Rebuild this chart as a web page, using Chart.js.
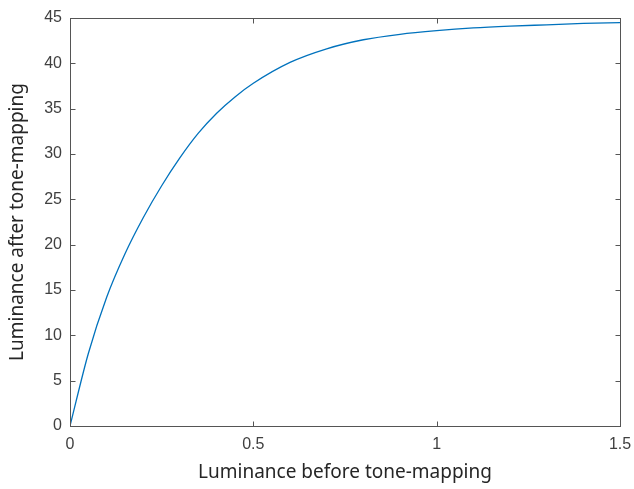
<!DOCTYPE html>
<html>
<head>
<meta charset="utf-8">
<script src="https://cdn.jsdelivr.net/npm/chart.js@4.4.1/dist/chart.umd.min.js"></script>
<style>
  html, body { margin: 0; padding: 0; background: #fff; }
  #wrap { width: 634px; height: 489px; }
</style>
</head>
<body>
<div id="wrap"><canvas id="grafico"></canvas></div>
<script>
// luminance before / after tone-mapping
const lumIn  = [0, 0.05, 0.1, 0.15, 0.2, 0.25, 0.3, 0.35, 0.4, 0.45, 0.5, 0.6, 0.7, 0.8, 0.9, 1.0, 1.1, 1.2, 1.3, 1.4, 1.5];
const lumOut = [0, 8.0, 14.2, 19.0, 23.0, 26.5, 29.6, 32.3, 34.5, 36.3, 37.8, 40.1, 41.6, 42.6, 43.2, 43.6, 43.9, 44.1, 44.25, 44.4, 44.5];
const xTicks = [0, 0.5, 1, 1.5];
const xTickLabels = ['0', '0.5', '1', '1.5'];
const yTicks = [0, 5, 10, 15, 20, 25, 30, 35, 40, 45];
const yTickLabels = ['0', '5', '10', '15', '20', '25', '30', '35', '40', '45'];

const pontos = lumIn.map((x, i) => ({ x: x, y: lumOut[i] }));

// box round the plot area with inward ticks on all four sides
const caixa = {
    id: 'caixa',
    afterDraw(chart) {
        const c = chart.ctx;
        const a = chart.chartArea;
        const sx = chart.scales.x, sy = chart.scales.y;
        const L = Math.round(a.left) + 0.5, R = Math.round(a.right) + 0.5;
        const T = Math.round(a.top) + 0.5, B = Math.round(a.bottom) + 0.5;
        c.save();
        c.strokeStyle = '#555555';
        c.lineWidth = 1;
        c.strokeRect(L, T, R - L, B - T);
        c.beginPath();
        xTicks.forEach(v => {
            const px = Math.round(sx.getPixelForValue(v)) + 0.5;
            c.moveTo(px, B); c.lineTo(px, B - 5);
            c.moveTo(px, T); c.lineTo(px, T + 5);
        });
        yTicks.forEach(v => {
            const py = Math.round(sy.getPixelForValue(v)) + 0.5;
            c.moveTo(L, py); c.lineTo(L + 5, py);
            c.moveTo(R, py); c.lineTo(R - 5, py);
        });
        c.stroke();
        c.restore();
    }
};

const ctx = document.getElementById('grafico').getContext('2d');
const grafico = new Chart(ctx, {
    type: 'scatter',
    data: {
        datasets: [{
            data: pontos,
            showLine: true,
            borderColor: '#0072BD',
            borderWidth: 1.3,
            pointRadius: 0,
            cubicInterpolationMode: 'monotone',
            fill: false
        }]
    },
    options: {
        responsive: true,
        maintainAspectRatio: false,
        animation: false,
        layout: { padding: { top: 18, right: 14, left: 0, bottom: 0 } },
        plugins: { legend: { display: false }, tooltip: { enabled: false } },
        scales: {
            x: {
                type: 'linear',
                min: 0, max: 1.5,
                afterBuildTicks: s => { s.ticks = xTicks.map(v => ({ value: v })); },
                afterFit: s => { s.height = 63; s.paddingRight = 0; s.paddingLeft = 0; },
                grid: { display: false, drawTicks: false },
                border: { display: false },
                ticks: {
                    padding: 9,
                    color: '#404040',
                    font: { family: '"Liberation Sans", Arial, sans-serif', size: 16 },
                    callback: (v) => xTickLabels[xTicks.indexOf(v)]
                },
                title: {
                    display: true,
                    text: 'Luminance before tone-mapping',
                    color: '#262626',
                    font: { family: '"Noto Sans", sans-serif', size: 19 },
                    padding: { top: 0, bottom: 5 }
                }
            },
            y: {
                type: 'linear',
                min: 0, max: 45,
                afterBuildTicks: s => { s.ticks = yTicks.map(v => ({ value: v })); },
                afterFit: s => { s.width = 70; s.paddingTop = 0; s.paddingBottom = 0; },
                grid: { display: false, drawTicks: false },
                border: { display: false },
                ticks: {
                    padding: 8,
                    color: '#404040',
                    font: { family: '"Liberation Sans", Arial, sans-serif', size: 16 },
                    callback: (v) => yTickLabels[yTicks.indexOf(v)]
                },
                title: {
                    display: true,
                    text: 'Luminance after tone-mapping',
                    color: '#262626',
                    font: { family: '"Noto Sans", sans-serif', size: 19 },
                    padding: { top: 6, bottom: 0 }
                }
            }
        }
    },
    plugins: [caixa]
});
</script>
</body>
</html>
